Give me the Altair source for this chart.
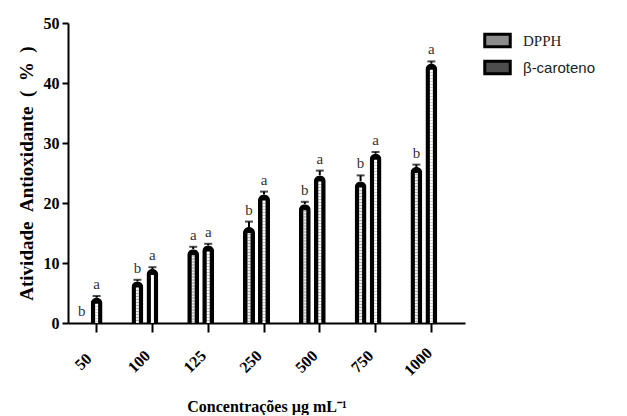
import altair as alt
import pandas as pd

concentracoes = ["50", "100", "125", "250", "500", "750", "1000"]
series = ["DPPH", "β-caroteno"]
dpph = [0.0, 6.9, 12.3, 16.0, 19.8, 23.6, 26.0]
dpph_err = [0.0, 0.3, 0.4, 0.9, 0.4, 1.0, 0.4]
dpph_letters = ["b", "b", "a", "b", "b", "b", "b"]
beta = [4.2, 9.0, 12.9, 21.4, 24.6, 28.2, 43.2]
beta_err = [0.3, 0.3, 0.3, 0.5, 0.8, 0.3, 0.4]
beta_letters = ["a", "a", "a", "a", "a", "a", "a"]

rows = []
for i, c in enumerate(concentracoes):
    rows.append({"conc": c, "serie": series[0], "valor": dpph[i], "erro": dpph_err[i], "letra": dpph_letters[i]})
    rows.append({"conc": c, "serie": series[1], "valor": beta[i], "erro": beta_err[i], "letra": beta_letters[i]})
df = pd.DataFrame(rows)

SERIF = "Liberation Serif"

x_enc = alt.X(
    "conc:N",
    sort=concentracoes,
    scale=alt.Scale(paddingInner=0.4624, paddingOuter=0.289, align=0.19),
    axis=alt.Axis(
        title="Concentrações µg mL⁻¹",
        titleFont=SERIF, titleFontSize=16, titleFontWeight="bold", titleColor="black",
        titlePadding=20,
        labelFont=SERIF, labelFontSize=16, labelFontWeight="bold", labelColor="black",
        labelAngle=-45, labelAlign="center", labelBaseline="bottom", labelPadding=35,
        tickSize=9, tickWidth=2, tickColor="black", bandPosition=0.75,
        domainWidth=2, domainColor="black", grid=False,
    ),
)
y_scale = alt.Scale(domain=[0, 50], nice=False)
y_enc = alt.Y(
    "valor:Q",
    scale=y_scale,
    axis=alt.Axis(
        title="Atividade\u2002Antioxidante\u2002(\u2002%\u2002)",
        titleFont=SERIF, titleFontSize=19, titleFontWeight="bold", titleColor="black",
        titlePadding=7,
        labelFont=SERIF, labelFontSize=16, labelFontWeight="bold", labelColor="black",
        labelPadding=3, values=[0, 10, 20, 30, 40, 50],
        tickSize=6, tickWidth=2, tickColor="black",
        domainWidth=2, domainColor="black", grid=False,
    ),
)
xo = alt.XOffset("serie:N", sort=series, scale=alt.Scale(paddingInner=0, paddingOuter=0))

base = alt.Chart(df)

bars = base.mark_bar(width=12, color="black", cornerRadiusTopLeft=6, cornerRadiusTopRight=6).encode(
    x=x_enc, y=y_enc, xOffset=xo
)


def inner(filter_expr, color, dash, shift, dash_offset):
    return base.transform_filter(filter_expr).transform_calculate(
        topo="datum.valor - 1.0"
    ).mark_rule(
        color=color, strokeWidth=3, strokeDash=dash, strokeDashOffset=dash_offset, xOffset=shift
    ).encode(
        x=x_enc, xOffset=xo, y=alt.Y("topo:Q", scale=y_scale), y2=alt.datum(0)
    )


f_d = "datum.valor > 1.5 && datum.serie == 'DPPH'"
f_b = "datum.valor > 1.5 && datum.serie != 'DPPH'"
inner_d1 = inner(f_d, "#eeeeee", [1.5, 1.5], -1.5, 0)
inner_d2 = inner(f_d, "#eeeeee", [1.5, 1.5], 1.5, 1.5)
inner_b1 = inner(f_b, "white", [3, 3], -1.5, 0)
inner_b2 = inner(f_b, "white", [3, 3], 1.5, 3)

err = base.transform_filter("datum.erro > 0").transform_calculate(
    sup="datum.valor + datum.erro"
).mark_rule(color="black", strokeWidth=2).encode(
    x=x_enc, xOffset=xo, y=alt.Y("valor:Q", scale=y_scale), y2="sup:Q"
)
cap = base.transform_filter("datum.erro > 0").transform_calculate(
    sup="datum.valor + datum.erro"
).mark_tick(color="black", thickness=2, size=8, orient="horizontal").encode(
    x=x_enc, xOffset=xo, y=alt.Y("sup:Q", scale=y_scale)
)

letters = base.transform_calculate(sup="datum.valor + datum.erro").mark_text(
    font=SERIF, fontSize=15, color="#333333", baseline="alphabetic", dy=-7
).encode(
    x=x_enc, xOffset=xo, y=alt.Y("sup:Q", scale=y_scale), text="letra:N"
)

legend_pts = base.mark_point(filled=True, opacity=0, stroke="black").encode(
    x=x_enc, xOffset=xo, y=y_enc,
    fill=alt.Fill(
        "serie:N", sort=series,
        scale=alt.Scale(domain=series, range=["#8c8c8c", "#4d4d4d"]),
        legend=alt.Legend(
            title=None, orient="none", legendX=415, legendY=3,
            symbolType="M-1,-0.5H1V0.5H-1Z", symbolSize=650,
            symbolStrokeWidth=3, symbolStrokeColor="black", symbolOpacity=1,
            labelFont=alt.ExprRef("datum.label == 'DPPH' ? 'Liberation Serif' : 'Liberation Sans'"),
            labelFontSize=15, labelColor="#222222", labelOffset=11,
            rowPadding=0, padding=0,
        ),
    ),
)

chart = alt.layer(bars, inner_d1, inner_d2, inner_b1, inner_b2, err, cap, letters, legend_pts).properties(
    width=397, height=300,
    autosize=alt.AutoSizeParams(type="none"),
    padding={"left": 60, "top": 15, "right": 135, "bottom": 92},
    background="white",
).configure_view(stroke=None)

chart.save("out.html", embed_options={"renderer": "svg", "actions": False})
